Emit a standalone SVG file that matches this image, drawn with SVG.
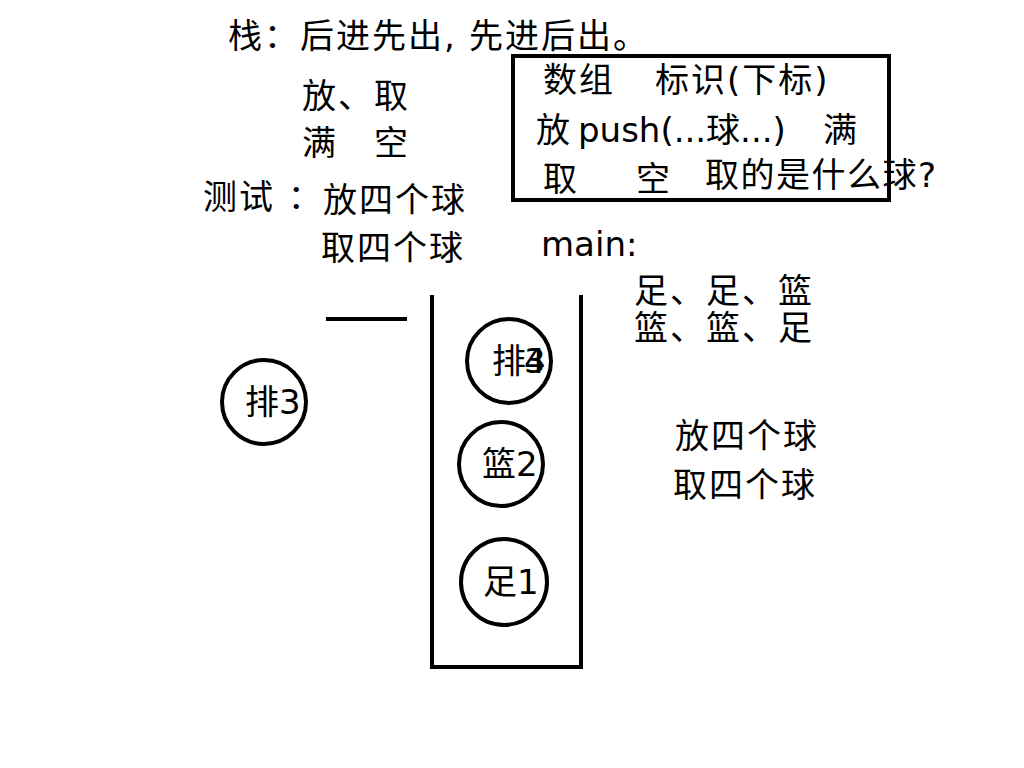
<svg xmlns="http://www.w3.org/2000/svg" width="1024" height="768" viewBox="0 0 1024 768">
  <style>
    text { font-family: "DejaVu Sans", "Noto Sans CJK SC", sans-serif; font-size: 34px; letter-spacing: 2px; fill: #000; }
    text.tight { letter-spacing: 0; }
    text.mid { letter-spacing: 1.5px; }
    .ball { fill: none; stroke: #000; stroke-width: 4; }
    .wall { fill: none; stroke: #000; stroke-width: 4; }
  </style>
  <rect width="1024" height="768" fill="#fff"/>

  <!-- notes -->
  <g id="notes">
    <text x="228" y="48">栈：</text>
    <text x="300" y="48">后进先出,</text>
    <text x="469" y="48">先进后出。</text>
    <text x="302" y="108">放、取</text>
    <text x="302" y="155">满　空</text>
    <text x="203" y="209">测试 ：</text>
    <text x="323" y="212">放四个球</text>
    <text x="321" y="260">取四个球</text>
    <text x="541" y="256" class="tight">main:</text>
    <text x="634" y="303">足、足、篮</text>
    <text x="634" y="340">篮、篮、足</text>
    <text x="675" y="448">放四个球</text>
    <text x="673" y="497">取四个球</text>
  </g>

  <!-- array box -->
  <g id="array-box">
    <rect x="513" y="56" width="376" height="144" class="wall"/>
    <text x="543" y="92">数组</text>
    <text x="655" y="92">标识(下标)</text>
    <text x="536" y="142">放</text>
    <text x="578" y="142" class="tight">push(...球...)</text>
    <text x="823" y="142">满</text>
    <text x="543" y="191">取</text>
    <text x="636" y="191">空</text>
    <text x="705" y="187" class="mid">取的是什么球?</text>
  </g>

  <!-- stack container -->
  <g id="stack">
    <path d="M432 295 V667 H581 V295" class="wall"/>
  </g>
  <g id="lid">
    <line x1="326" y1="319" x2="407" y2="319" stroke="#000" stroke-width="4"/>
  </g>

  <!-- balls -->
  <g id="ball-pai4">
    <circle cx="509" cy="361" r="42" class="ball"/>
    <text x="492" y="373" class="tight">排</text>
    <text x="524" y="373" class="tight">4</text>
    <text x="524" y="373" class="tight">3</text>
  </g>
  <g id="ball-lan2">
    <circle cx="501" cy="464" r="42" class="ball"/>
    <text x="482" y="476" class="tight">篮2</text>
  </g>
  <g id="ball-zu1">
    <circle cx="504" cy="582" r="43" class="ball"/>
    <text x="483" y="594" class="tight">足1</text>
  </g>
  <g id="ball-pai3">
    <circle cx="264" cy="402" r="42" class="ball"/>
    <text x="245" y="414" class="tight">排3</text>
  </g>
</svg>
